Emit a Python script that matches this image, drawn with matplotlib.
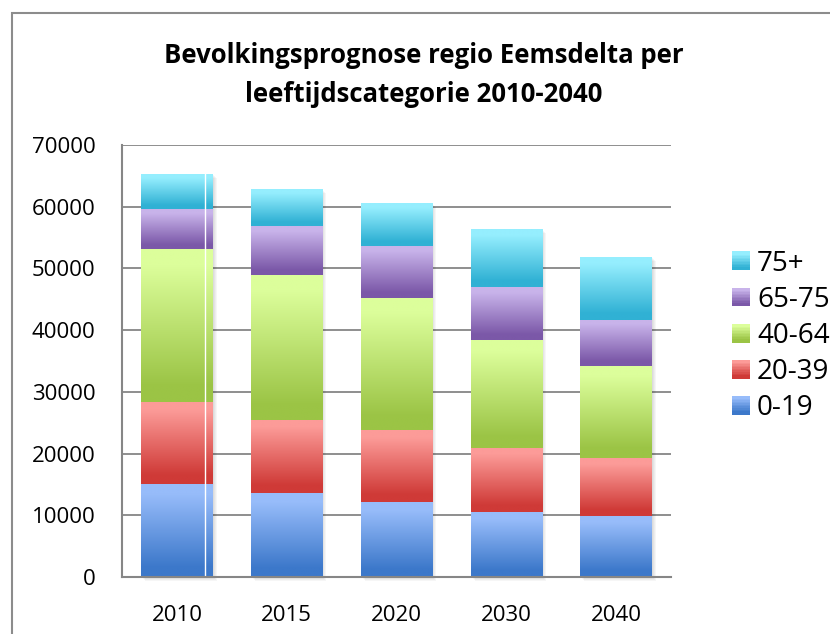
import numpy as np
import matplotlib
matplotlib.use("Agg")
import matplotlib.pyplot as plt
from matplotlib.patches import Rectangle
from matplotlib.legend_handler import HandlerBase
from matplotlib.colors import to_rgb

plt.rcParams['font.family'] = ['Open Sans', 'DejaVu Sans']

years = ['2010', '2015', '2020', '2030', '2040']
groups = ['0-19', '20-39', '40-64', '65-75', '75+']
v_0_19 = [15040, 13590, 12130, 10510, 9870]
v_20_39 = [13380, 11920, 11650, 10470, 9380]
v_40_64 = [24790, 23450, 21350, 17460, 14880]
v_65_75 = [6470, 7920, 8520, 8580, 7550]
v_75plus = [5560, 5990, 6950, 9380, 10180]
series = [v_0_19, v_20_39, v_40_64, v_65_75, v_75plus]

# light (top) / dark (bottom) of each gradient
light = ['#97BCFA', '#FC9B98', '#DCFE9B', '#C8B3EA', '#95EEFE']
dark = ['#3C78CA', '#CF3A37', '#9BC445', '#7B58A8', '#30B1D4']

title = 'Bevolkingsprognose regio Eemsdelta per\nleeftijdscategorie 2010-2040'


def gradient(c1, c2, n=64):
    t = np.linspace(0, 1, n)
    t = np.clip((t - 0.1) / 0.8, 0, 1)
    a, b = np.array(to_rgb(c1)), np.array(to_rgb(c2))
    return (a[None, :] * (1 - t[:, None]) + b[None, :] * t[:, None])[:, None, :]


class GradHandler(HandlerBase):
    def __init__(self, c1, c2):
        super().__init__()
        self.c1, self.c2 = c1, c2

    def create_artists(self, legend, orig_handle, xdescent, ydescent,
                       width, height, fontsize, trans):
        arts = []
        g = gradient(self.c1, self.c2, 12)[:, 0, :]
        n = len(g)
        for i, col in enumerate(g):
            y = -ydescent + height * (1 - (i + 1) / n)
            arts.append(Rectangle((-xdescent, y), width, height / n + 0.3,
                                  facecolor=col, edgecolor='none', transform=trans))
        return arts


W, H = 830, 634
fig = plt.figure(figsize=(W / 100, H / 100), dpi=100)
ax = fig.add_axes([122 / W, 1 - 577 / H, (671 - 122) / W, (577 - 145) / H])

x = np.arange(len(years))
width = 0.65
totals = np.sum(series, axis=0)

# soft shadow behind the stacks
px_x = 5 / (671 - 122)
px_y = 70000 / (577 - 145)
for k in range(1, 5):
    ax.bar(x + k * px_x, totals, width=width, bottom=-k * px_y,
           color='black', alpha=0.035, zorder=2, clip_on=False, linewidth=0)

bottom = np.zeros(len(years))
handles = []
for vals, c1, c2, lab in zip(series, light, dark, groups):
    bars = ax.bar(x, vals, width=width, bottom=bottom, color='none',
                  linewidth=0, zorder=3, label=lab)
    img = gradient(c1, c2)
    for r in bars:
        x0, y0 = r.get_x(), r.get_y()
        ax.imshow(img, extent=[x0, x0 + r.get_width(), y0, y0 + r.get_height()],
                  aspect='auto', origin='upper', zorder=3, interpolation='bilinear')
    handles.append(bars)
    bottom += np.array(vals)

# thin white artefact line in the first bar
ax.plot([x[0] + 0.26, x[0] + 0.26], [-300, totals[0]], color='white', lw=1, zorder=4)

ax.set_xlim(-0.5, len(years) - 0.5)
ax.set_ylim(0, 70000)
ax.set_yticks(np.arange(0, 70001, 10000))
ax.set_xticks(x)
ax.set_xticklabels(years)
ax.tick_params(axis='both', length=0, labelsize=16, colors='black')
ax.tick_params(axis='y', pad=19)
ax.tick_params(axis='x', pad=20)
ax.yaxis.grid(True, color='#868686', lw=1.3)
ax.set_axisbelow(True)
for s in ['top', 'right']:
    ax.spines[s].set_visible(False)
for s in ['left', 'bottom']:
    ax.spines[s].set_color('#868686')
    ax.spines[s].set_linewidth(1.5)
    ax.spines[s].set_zorder(5)

fig.text(424 / W, 1 - 75 / H, title, ha='center', va='center',
         fontsize=18.5, fontweight='bold', linespacing=1.6)

hmap = {h: GradHandler(c1, c2) for h, c1, c2 in zip(handles, light, dark)}
fig.legend(handles[::-1], groups[::-1], handler_map=hmap,
           loc='center left', bbox_to_anchor=(732 / W, 1 - 336 / H),
           frameon=False, fontsize=20, borderpad=0, borderaxespad=0,
           handlelength=0.65, handleheight=0.65, handletextpad=0.25,
           labelspacing=0.29)

fig.patches.append(Rectangle((12 / W, -0.1), 1.2, 1.1 - 13 / H, transform=fig.transFigure,
                             fill=False, edgecolor='#8c8c8c', lw=1.5))

fig.savefig('out.png', dpi=100)
